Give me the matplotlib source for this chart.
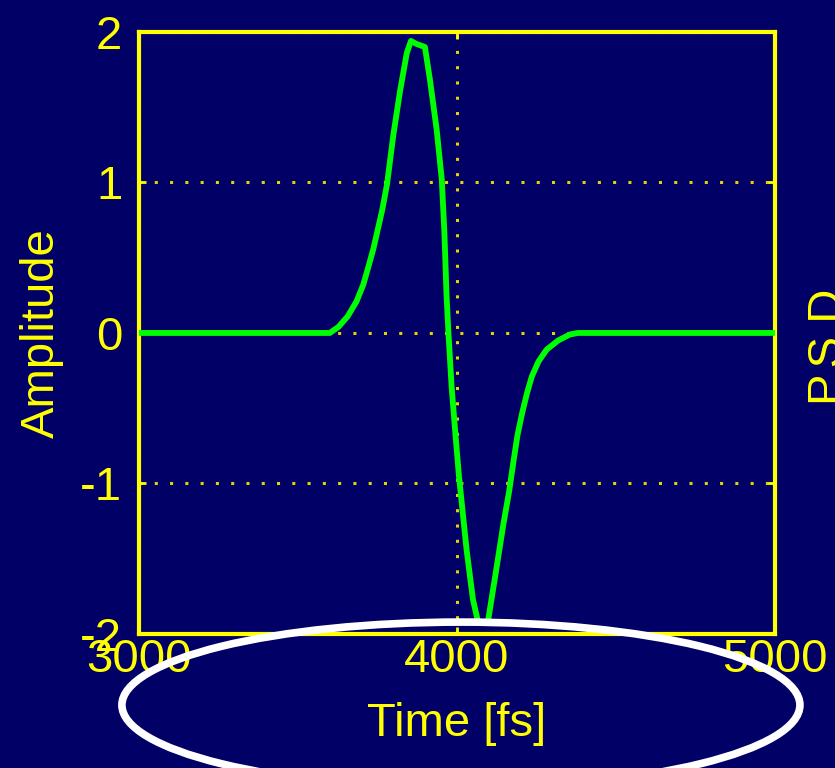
import matplotlib
matplotlib.use("Agg")
import matplotlib.pyplot as plt
from matplotlib.patches import Ellipse

plt.rcParams['font.family'] = ['Liberation Sans', 'DejaVu Sans']

# pulse (time in fs, amplitude)
time_fs = [3000, 3600, 3627, 3656, 3684, 3705, 3720, 3737, 3750, 3765, 3780, 3800, 3821,
           3842, 3855, 3873, 3899, 3915, 3936, 3952, 3960, 3967, 3973, 3983, 3996, 4006,
           4030, 4050, 4066, 4097, 4125, 4145, 4164, 4177, 4190, 4205, 4220, 4235, 4256,
           4282, 4318, 4355, 4380, 5000]
amplitude = [0, 0, 0.04, 0.11, 0.21, 0.32, 0.43, 0.56, 0.68, 0.82, 0.99, 1.32, 1.61,
             1.86, 1.94, 1.92, 1.90, 1.68, 1.35, 1.02, 0.68, 0.25, 0.0, -0.36, -0.70, -0.95,
             -1.44, -1.77, -1.92, -1.92, -1.55, -1.28, -1.05, -0.86, -0.68, -0.53, -0.40, -0.29, -0.19,
             -0.11, -0.05, -0.01, 0, 0]

x_ticks = [3000, 4000, 5000]
y_ticks = [-2, -1, 0, 1, 2]

bg = '#000066'
yellow = '#ffff00'

fig = plt.figure(figsize=(8.35, 7.68), dpi=100, facecolor=bg)
ax = fig.add_axes([0.1665, 0.1745, 0.7617, 0.7839], facecolor=bg)

ax.plot(time_fs, amplitude, color='#00ff00', lw=4.2, zorder=3)

ax.set_xlim(3000, 5000)
ax.set_ylim(-2, 2)
ax.set_xticks(x_ticks)
ax.set_yticks(y_ticks)
ax.set_xticklabels([str(v) for v in x_ticks])
ax.set_yticklabels([str(v) for v in y_ticks])

for s in ax.spines.values():
    s.set_color(yellow)
    s.set_linewidth(3)

ax.tick_params(axis='both', direction='in', length=5, width=2, color=yellow,
               labelcolor=yellow, labelsize=34, top=True, right=True)
ax.tick_params(axis='y', pad=12)
ax.tick_params(axis='x', pad=3)

ax.grid(True, color='#e6d200', lw=2.2, linestyle=(0, (1, 4)))

ax.set_xlabel('Time [fs]', color=yellow, fontsize=34, labelpad=14)
ax.set_ylabel('Amplitude', color=yellow, fontsize=34, labelpad=12)

fig.text(0.962, 0.561, 'P.S.D.', color=yellow, fontsize=34, rotation=90,
         ha='left', va='center')

ell = Ellipse((0.552, 0.082), 0.812, 0.216, transform=fig.transFigure,
              fill=False, edgecolor='white', lw=5.5, zorder=10)
fig.add_artist(ell)

fig.savefig('out.png', dpi=100, facecolor=bg)
